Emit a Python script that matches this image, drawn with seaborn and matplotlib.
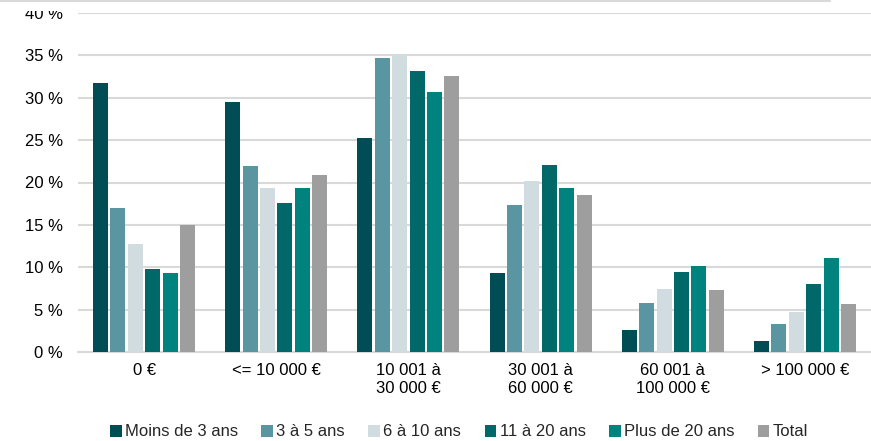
import matplotlib
matplotlib.use("Agg")
import matplotlib.pyplot as plt
import seaborn as sns
import pandas as pd
from matplotlib.ticker import FuncFormatter
from matplotlib.patches import Rectangle

categories = ["0 €", "<= 10 000 €", "10 001 à\n30 000 €", "30 001 à\n60 000 €",
              "60 001 à\n100 000 €", "> 100 000 €"]
groups = ["Moins de 3 ans", "3 à 5 ans", "6 à 10 ans", "11 à 20 ans", "Plus de 20 ans", "Total"]

moins_3 = [31.7, 29.5, 25.2, 9.3, 2.6, 1.3]
de_3_5 = [17.0, 21.9, 34.7, 17.3, 5.8, 3.3]
de_6_10 = [12.7, 19.3, 35.0, 20.2, 7.4, 4.7]
de_11_20 = [9.8, 17.6, 33.1, 22.1, 9.4, 8.0]
plus_20 = [9.3, 19.4, 30.7, 19.4, 10.1, 11.1]
total = [15.0, 20.9, 32.6, 18.5, 7.3, 5.7]

colors = ["#004D55", "#5A95A2", "#D0DCE0", "#006868", "#00837F", "#9E9E9E"]

rows = []
for g, vals in zip(groups, [moins_3, de_3_5, de_6_10, de_11_20, plus_20, total]):
    for c, v in zip(categories, vals):
        rows.append({"tranche": c, "groupe": g, "pct": v})
df = pd.DataFrame(rows)

sns.set_theme(style="white")
plt.rcParams["font.family"] = ["Liberation Sans", "DejaVu Sans"]

fig = plt.figure(figsize=(8.71, 4.41), dpi=100)
ax = fig.add_axes([78 / 871, 89 / 441, 1 - 78 / 871, (352 - 13) / 441])

sns.barplot(data=df, x="tranche", y="pct", hue="groupe", order=categories,
            hue_order=groups, palette=dict(zip(groups, colors)), saturation=1,
            width=0.79, gap=0.14, linewidth=0, ax=ax, zorder=3)

ax.set_ylim(0, 40)
ax.set_yticks(range(0, 41, 5))
ax.yaxis.set_major_formatter(FuncFormatter(lambda v, p: f"{int(v)} %"))
ax.grid(axis="y", color="#D9D9D9", linewidth=1.5, zorder=0)
ax.set_axisbelow(True)
for s in ["top", "right", "left"]:
    ax.spines[s].set_visible(False)
ax.spines["bottom"].set_color("#D9D9D9")
ax.spines["bottom"].set_linewidth(1.5)
ax.tick_params(axis="both", length=0, labelsize=12, colors="black")
ax.tick_params(axis="x", pad=8)
ax.tick_params(axis="y", pad=11)
ax.set_xlabel("")
ax.set_ylabel("")

ax.legend_.remove()
handles, labels = ax.get_legend_handles_labels()
fig.legend(handles, labels, loc="center", bbox_to_anchor=(459 / 871, 1 - 432 / 441),
           ncol=6, frameon=False, fontsize=12, handlelength=0.7, handleheight=0.7,
           handletextpad=0.2, columnspacing=1.4)

# white header band covering the top of the chart, as in the source crop
fig.patches.append(Rectangle((0, 1 - 11 / 441), 830 / 871, 11 / 441,
                             transform=fig.transFigure, facecolor="white",
                             edgecolor="none", zorder=10))
fig.lines.append(plt.Line2D([0, 830 / 871], [1 - 0.5 / 441, 1 - 0.5 / 441],
                            transform=fig.transFigure, color="#D9D9D9", linewidth=1.5,
                            zorder=11))

fig.savefig("out.png", dpi=100)
